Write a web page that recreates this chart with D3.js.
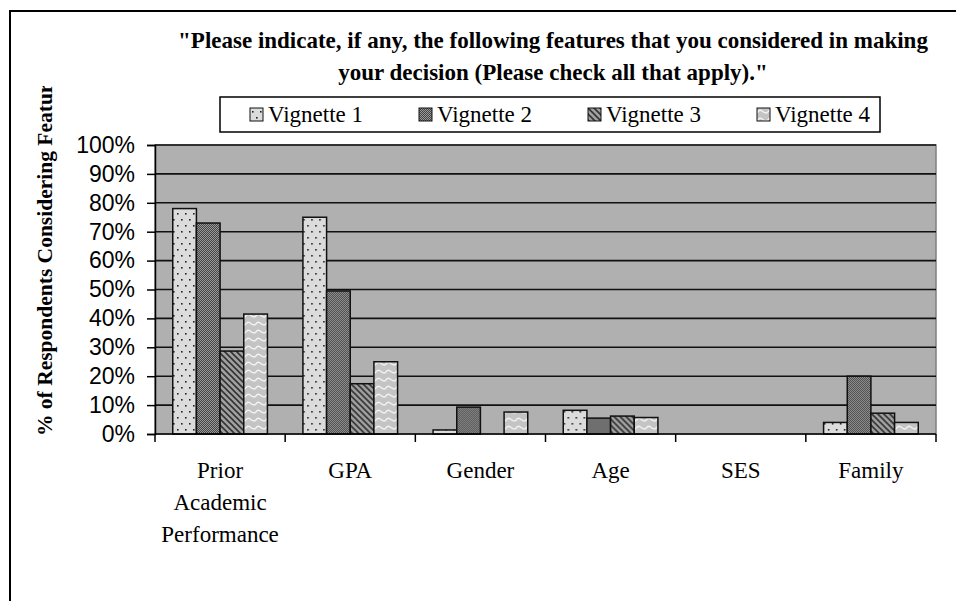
<!DOCTYPE html>
<html>
<head>
<meta charset="utf-8">
<script src="https://cdn.jsdelivr.net/npm/d3@7"></script>
<style>
  body { margin: 0; background: #fff; }
  svg { display: block; }
</style>
</head>
<body>
<script>
const categories = [["Prior", "Academic", "Performance"], ["GPA"], ["Gender"], ["Age"], ["SES"], ["Family"]];
const series = ["Vignette 1", "Vignette 2", "Vignette 3", "Vignette 4"];
const v1 = [0.78, 0.75, 0.014, 0.082, 0, 0.04];
const v2 = [0.73, 0.495, 0.093, 0.055, 0, 0.20];
const v3 = [0.287, 0.174, 0, 0.062, 0, 0.072];
const v4 = [0.415, 0.25, 0.076, 0.057, 0, 0.04];
const yTicks = [0, 0.1, 0.2, 0.3, 0.4, 0.5, 0.6, 0.7, 0.8, 0.9, 1];

const values = [v1, v2, v3, v4];
const w = 956, h = 601;
const plotL = 155, plotR = 936, plotT = 145, plotB = 434;
const serif = "'Liberation Serif', 'Times New Roman', serif";
const sans = "'Liberation Sans', Arial, sans-serif";

var svg = d3.select("body").append("svg").attr("width", w).attr("height", h);
var defs = svg.append("defs");

// patterns, one per vignette
var p1 = defs.append("pattern").attr("id", "pat0").attr("patternUnits", "userSpaceOnUse")
  .attr("width", 8).attr("height", 12);
p1.append("rect").attr("width", 8).attr("height", 12).attr("fill", "#dcdcdc");
p1.append("rect").attr("x", 2).attr("y", 3).attr("width", 1.6).attr("height", 1.6).attr("fill", "#222");
p1.append("rect").attr("x", 6).attr("y", 9).attr("width", 1.6).attr("height", 1.6).attr("fill", "#222");

var p2 = defs.append("pattern").attr("id", "pat1").attr("patternUnits", "userSpaceOnUse")
  .attr("width", 2).attr("height", 2);
p2.append("rect").attr("width", 2).attr("height", 2).attr("fill", "#9a9a9a");
p2.append("rect").attr("width", 1).attr("height", 1).attr("fill", "#444");
p2.append("rect").attr("x", 1).attr("y", 1).attr("width", 1).attr("height", 1).attr("fill", "#444");

var p3 = defs.append("pattern").attr("id", "pat2").attr("patternUnits", "userSpaceOnUse")
  .attr("width", 6).attr("height", 6);
p3.append("rect").attr("width", 6).attr("height", 6).attr("fill", "#a0a0a0");
p3.append("path").attr("d", "M-1,-1 L7,7 M-4,2 L2,8 M4,-2 L10,4")
  .attr("stroke", "#333").attr("stroke-width", 1.6);

var p4 = defs.append("pattern").attr("id", "pat3").attr("patternUnits", "userSpaceOnUse")
  .attr("width", 10).attr("height", 8);
p4.append("rect").attr("width", 10).attr("height", 8).attr("fill", "#c4c4c4");
p4.append("path").attr("d", "M0,5 Q2.5,1 5,3 T10,5")
  .attr("fill", "none").attr("stroke", "#f2f2f2").attr("stroke-width", 1.5);

// outer frame
svg.append("rect").attr("x", 10).attr("y", 11).attr("width", w + 20).attr("height", h + 20)
  .attr("fill", "none").attr("stroke", "#000").attr("stroke-width", 2);

var x = d3.scaleBand().domain(d3.range(categories.length)).range([plotL, plotR]);
var xs = d3.scaleBand().domain(d3.range(series.length))
  .range([0, x.bandwidth()]).paddingOuter(0.75).paddingInner(0);
var y = d3.scaleLinear().domain([0, 1]).range([plotB, plotT]);

// plot background
svg.append("rect").attr("x", plotL).attr("y", plotT).attr("width", plotR - plotL).attr("height", plotB - plotT)
  .attr("fill", "#b0b0b0").attr("stroke", "#808080").attr("stroke-width", 1.5);

// gridlines
svg.append("g").selectAll("line").data(yTicks.slice(1)).enter().append("line")
  .attr("x1", plotL).attr("x2", plotR)
  .attr("y1", d => y(d)).attr("y2", d => y(d))
  .attr("stroke", "#111").attr("stroke-width", 1.6);

// bars
var groups = svg.append("g").selectAll("g").data(categories).enter().append("g")
  .attr("transform", (d, i) => "translate(" + x(i) + ",0)");
groups.selectAll("rect").data((d, i) => values.map((s, k) => ({ k: k, v: s[i] })).filter(d => d.v > 0))
  .enter().append("rect")
  .attr("x", d => xs(d.k))
  .attr("width", xs.bandwidth())
  .attr("y", d => y(d.v))
  .attr("height", d => y(0) - y(d.v))
  .attr("fill", d => "url(#pat" + d.k + ")")
  .attr("stroke", "#111").attr("stroke-width", 1.5);

// y axis
var yAxis = svg.append("g").attr("transform", "translate(" + plotL + ",0)")
  .call(d3.axisLeft(y).tickValues(yTicks).tickFormat(d3.format(".0%")).tickSize(8).tickPadding(12));
yAxis.select(".domain").attr("stroke", "#000").attr("stroke-width", 1.5);
yAxis.selectAll(".tick line").attr("stroke", "#000").attr("stroke-width", 1.5);
yAxis.selectAll(".tick text").attr("font-family", sans).attr("font-size", 23).attr("fill", "#000");

// x axis line and ticks at category boundaries
svg.append("line").attr("x1", plotL).attr("x2", plotR).attr("y1", plotB).attr("y2", plotB)
  .attr("stroke", "#000").attr("stroke-width", 1.5);
svg.append("g").selectAll("line").data(d3.range(categories.length + 1)).enter().append("line")
  .attr("x1", d => plotL + d * x.step()).attr("x2", d => plotL + d * x.step())
  .attr("y1", plotB).attr("y2", plotB + 8)
  .attr("stroke", "#000").attr("stroke-width", 1.5);

// category labels
var labels = svg.append("g").selectAll("text").data(categories).enter().append("text")
  .attr("x", (d, i) => x(i) + x.bandwidth() / 2)
  .attr("y", 478)
  .attr("text-anchor", "middle")
  .attr("font-family", serif).attr("font-size", 23);
labels.selectAll("tspan").data(d => d).enter().append("tspan")
  .attr("x", function() { return this.parentNode.getAttribute("x"); })
  .attr("dy", (d, i) => i === 0 ? 0 : 32)
  .text(d => d);

// title
var title = ["\"Please indicate, if any, the following features that you considered in making",
             "your decision (Please check all that apply).\""];
svg.append("g").selectAll("text").data(title).enter().append("text")
  .attr("x", 553).attr("y", (d, i) => 48 + i * 32)
  .attr("text-anchor", "middle")
  .attr("font-family", serif).attr("font-weight", "bold").attr("font-size", 23)
  .text(d => d);

// y axis title, clipped at the top like the original
defs.append("clipPath").attr("id", "ytclip").append("rect")
  .attr("x", 0).attr("y", 86).attr("width", 100).attr("height", 500);
svg.append("g").attr("clip-path", "url(#ytclip)")
  .append("text")
  .attr("transform", "translate(52,436) rotate(-90)")
  .attr("font-family", serif).attr("font-weight", "bold").attr("font-size", 21.5)
  .text("% of Respondents Considering Feature");

// legend
var legend = svg.append("g");
legend.append("rect").attr("x", 220).attr("y", 97).attr("width", 660).attr("height", 35)
  .attr("fill", "#fff").attr("stroke", "#000").attr("stroke-width", 1.5);
const legendX = [250, 419, 588, 757];
var items = legend.selectAll("g.item").data(series).enter().append("g")
  .attr("transform", (d, i) => "translate(" + legendX[i] + ",108)");
items.append("rect").attr("width", 13).attr("height", 13)
  .attr("fill", (d, i) => "url(#pat" + i + ")")
  .attr("stroke", "#111").attr("stroke-width", 1);
items.append("text").attr("x", 18).attr("y", 14)
  .attr("font-family", serif).attr("font-size", 23)
  .text(d => d);
</script>
</body>
</html>
